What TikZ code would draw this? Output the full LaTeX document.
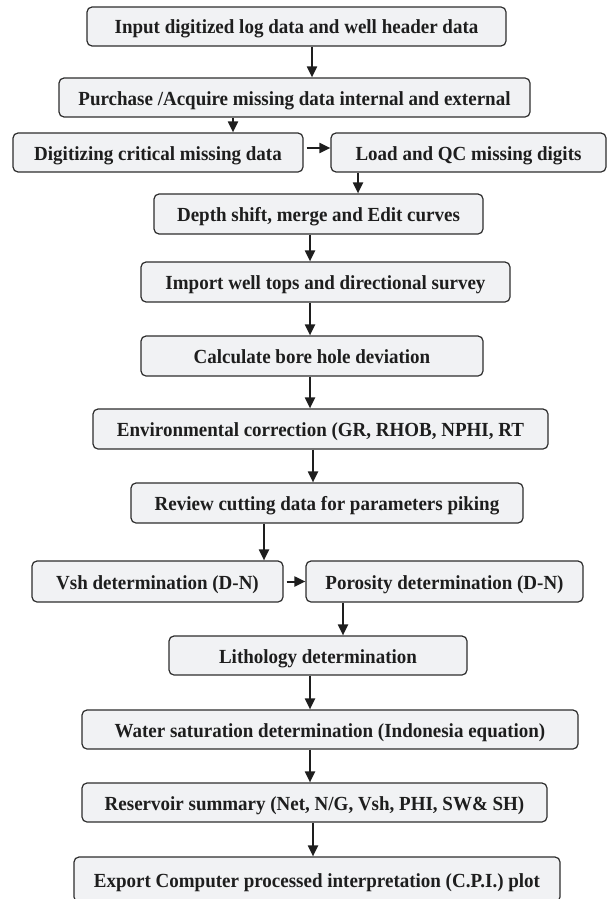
\documentclass[tikz,border=0pt]{standalone}
\usepackage{fontspec}
\setmainfont{Liberation Serif}
\newfontfamily\stepfont{Liberation Serif}[FakeStretch=0.95]
\usepackage{xcolor}
\usepackage{tikz}
\usetikzlibrary{arrows.meta}

\definecolor{boxfill}{RGB}{241,242,244}
\definecolor{boxline}{RGB}{45,45,45}
\definecolor{inkgray}{RGB}{30,30,30}

\begin{document}
\begin{tikzpicture}[x=1pt,y=-1pt, line join=round,
    stepbox/.style={draw=boxline, fill=boxfill, line width=1.2pt, rounded corners=5pt,
        inner sep=0pt, minimum height=39pt, text=inkgray,
        font=\stepfont\fontsize{20}{22}\selectfont\bfseries, text height=16pt, text depth=1pt},
    arr/.style={draw=inkgray, line width=2pt, -{Triangle[length=11pt,width=10pt]}}]
    \useasboundingbox (0,0) rectangle (607,899);

    % Boxes
    \node[stepbox, minimum width=419pt] (in)   at (296.5,26.5) {Input digitized log data and well header data};
    \node[stepbox, minimum width=471pt] (pur)  at (294.5,97.5) {Purchase /Acquire missing data internal and external};
    \node[stepbox, minimum width=290pt] (dig)  at (158,152.5)  {Digitizing critical missing data};
    \node[stepbox, minimum width=275pt] (load) at (468.5,152.5) {Load and QC missing digits};
    \node[stepbox, minimum width=329pt, minimum height=40pt] (dep) at (318.5,214) {Depth shift, merge and Edit curves};
    \node[stepbox, minimum width=369pt, minimum height=40pt] (imp) at (325.5,282) {Import well tops and directional survey};
    \node[stepbox, minimum width=342pt, minimum height=40pt] (cal) at (312,356) {Calculate bore hole deviation};
    \node[stepbox, minimum width=455pt, minimum height=40pt] (env) at (320.5,429) {Environmental correction (GR, RHOB, NPHI, RT};
    \node[stepbox, minimum width=392pt, minimum height=40pt] (rev) at (327,503) {Review cutting data for parameters piking};
    \node[stepbox, minimum width=251pt, minimum height=41pt] (vsh) at (157.5,581.5) {Vsh determination (D-N)};
    \node[stepbox, minimum width=277pt, minimum height=41pt] (por) at (444.5,581.5) {Porosity determination (D-N)};
    \node[stepbox, minimum width=298pt] (lit)  at (318,655.5)  {Lithology determination};
    \node[stepbox, minimum width=496pt] (wat)  at (330,729.5)  {Water saturation determination (Indonesia equation)};
    \node[stepbox, minimum width=465pt] (res)  at (314.5,802.5) {Reservoir summary (Net, N/G, Vsh, PHI, SW\& SH)};
    \node[stepbox, minimum width=486pt, minimum height=45pt] (exp) at (317,879.5) {Export Computer processed interpretation (C.P.I.) plot};

    % Arrows
    \draw[arr] (in.south -| 312,0)   -- (pur.north -| 312,0);
    \draw[arr] (pur.south -| 233,0)  -- (dig.north -| 233,0);
    \draw[arr, shorten <=3pt] (dig.east |- 0,148) -- (load.west |- 0,148);
    \draw[arr] (load.south -| 358,0) -- (dep.north -| 358,0);
    \draw[arr] (dep.south -| 310,0)  -- (imp.north -| 310,0);
    \draw[arr] (imp.south -| 310,0)  -- (cal.north -| 310,0);
    \draw[arr] (cal.south -| 310,0)  -- (env.north -| 310,0);
    \draw[arr] (env.south -| 313,0)  -- (rev.north -| 313,0);
    \draw[arr] (rev.south -| 264,0)  -- (vsh.north -| 264,0);
    \draw[arr, shorten <=3pt] (vsh.east) -- (por.west);
    \draw[arr] (por.south -| 343,0)  -- (lit.north -| 343,0);
    \draw[arr] (lit.south -| 310,0)  -- (wat.north -| 310,0);
    \draw[arr] (wat.south -| 310,0)  -- (res.north -| 310,0);
    \draw[arr] (res.south -| 313,0)  -- (exp.north -| 313,0);
\end{tikzpicture}
\end{document}
